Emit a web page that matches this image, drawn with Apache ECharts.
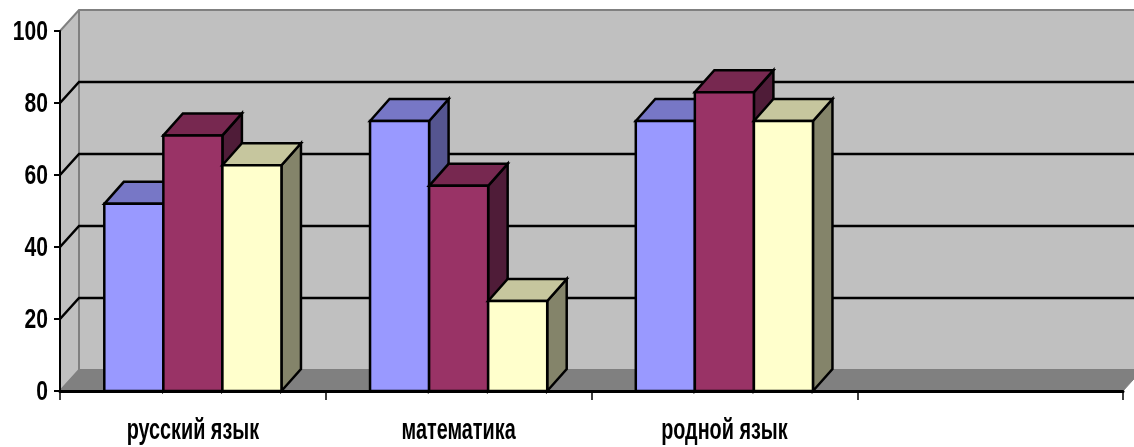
<!DOCTYPE html>
<html><head><meta charset="utf-8">
<style>html,body{margin:0;padding:0;background:#fff}#c{width:1134px;height:447px}</style>
<script src="https://cdn.jsdelivr.net/npm/echarts@6/dist/echarts.min.js"></script>
</head><body><div id="c"></div>
<script>
const categories = ['русский язык', 'математика', 'родной язык', ''];
const seriesOne = [52, 75, 75, null];
const seriesTwo = [71, 57, 83, null];
const seriesThree = [62.7, 25, 75, null];
const yTicks = [0, 20, 40, 60, 80, 100];
const DX = 19, DY = -21, BAR_DX = 19.5, BAR_DY = -22, STROKE = '#000';
const palette = [
  {front:'#9999FF', top:'#7777C6', side:'#555590'},
  {front:'#993366', top:'#772850', side:'#4F1C38'},
  {front:'#FFFFCC', top:'#C6C69E', side:'#84846A'}
];
const chart = echarts.init(document.getElementById('c'), null, {renderer:'canvas'});

function poly(points, fill, stroke, w){
  return {type:'polygon', shape:{points}, style:{fill, stroke, lineWidth:w, lineJoin:'miter'}, silent:true};
}
function wallsItem(params, api){
  const a = api.coord([0, 0]), band = api.size([1, 0])[0];
  const x0 = a[0] - band/2, x1 = x0 + band*categories.length;
  const y0 = a[1], y1 = api.coord([0, 100])[1];
  const g = '#808080';
  return {type:'group', children:[
    poly([[x0,y1],[x0+DX,y1+DY],[x1+DX,y1+DY],[x1+DX,y0+DY],[x0+DX,y0+DY],[x0,y0]], '#C0C0C0', g, 2),
    poly([[x0,y0],[x0+DX,y0+DY],[x1+DX,y0+DY],[x1,y0]], '#808080', g, 1),
    {type:'line', shape:{x1:x0+DX,y1:y1+DY,x2:x0+DX,y2:y0+DY}, style:{stroke:g,lineWidth:2}, silent:true}
  ]};
}
function gridItem(params, api){
  const v = api.value(0);
  if (v === 0 || v === 100) return null;
  const a = api.coord([0, v]), band = api.size([1, 0])[0];
  const x0 = a[0] - band/2, x1 = x0 + band*categories.length, y = a[1];
  return {type:'polyline', shape:{points:[[x0,y],[x0+DX,y+DY],[x1+DX,y+DY]]},
    style:{fill:null, stroke:'#000', lineWidth:2.5}, silent:true};
}
function barRender(idx){
  return function(params, api){
    const val = api.value(1);
    if (val == null || isNaN(val)) return null;
    const c = api.value(0), top = api.coord([c, val]), base = api.coord([c, 0]);
    const band = api.size([1, 0])[0], w = band/4.5;
    const xl = top[0] - band/2 + w*(0.75 + idx), xr = xl + w, yt = top[1], yb = base[1];
    const p = palette[idx];
    return {type:'group', children:[
      poly([[xr,yb],[xr+BAR_DX,yb+BAR_DY],[xr+BAR_DX,yt+BAR_DY],[xr,yt]], p.side, STROKE, 2.5),
      poly([[xl,yt],[xl+BAR_DX,yt+BAR_DY],[xr+BAR_DX,yt+BAR_DY],[xr,yt]], p.top, STROKE, 2.5),
      poly([[xl,yb],[xl,yt],[xr,yt],[xr,yb]], p.front, STROKE, 2.5)
    ]};
  };
}
const font = '"Liberation Sans", Arial, sans-serif';
function labelStyle(text, align, size){
  return {text, fill:'#000', fontFamily:font, fontWeight:'bold', fontSize:size, align, verticalAlign:'middle'};
}
function yLabel(params, api){
  const v = api.value(0), p = api.coord([0, v]), band = api.size([1, 0])[0];
  return {type:'text', x:p[0]-band/2-12, y:p[1]+2, scaleX:0.78, style:labelStyle(String(v), 'right', 27), silent:true};
}
function xLabel(params, api){
  const i = api.value(0), p = api.coord([i, 0]);
  return {type:'text', x:p[0], y:p[1]+40, scaleX:0.66, style:labelStyle(categories[i], 'center', 30), silent:true};
}
chart.setOption({
  animation:false,
  backgroundColor:'#fff',
  grid:{left:60, right:11, top:31, bottom:56, containLabel:false},
  xAxis:{type:'category', data:categories, boundaryGap:true, z:10,
    axisLine:{lineStyle:{color:'#000',width:3}},
    axisTick:{show:true, alignWithLabel:false, length:9, lineStyle:{color:'#000',width:1.5}},
    axisLabel:{show:false},
    splitLine:{show:false}},
  yAxis:{type:'value', min:0, max:100, interval:20, z:10,
    axisLine:{show:true, lineStyle:{color:'#000',width:2}},
    axisTick:{show:true, length:6, lineStyle:{color:'#000',width:2}},
    axisLabel:{show:false},
    splitLine:{show:false}},
  series:[
    {type:'custom', coordinateSystem:'cartesian2d', clip:false, z:1, data:[[0,0]], renderItem:wallsItem, silent:true},
    {type:'custom', coordinateSystem:'cartesian2d', clip:false, z:2, data:yTicks.map(v=>[v]), encode:{y:0}, renderItem:gridItem, silent:true},
    {type:'custom', name:'1', clip:false, z:3, data:seriesOne.map((v,i)=>[i,v]), renderItem:barRender(0)},
    {type:'custom', name:'2', clip:false, z:4, data:seriesTwo.map((v,i)=>[i,v]), renderItem:barRender(1)},
    {type:'custom', name:'3', clip:false, z:5, data:seriesThree.map((v,i)=>[i,v]), renderItem:barRender(2)},
    {type:'custom', clip:false, z:11, data:yTicks.map(v=>[v]), encode:{y:0}, renderItem:yLabel, silent:true},
    {type:'custom', clip:false, z:11, data:categories.map((c,i)=>[i]), encode:{x:0}, renderItem:xLabel, silent:true}
  ]
});
</script></body></html>
